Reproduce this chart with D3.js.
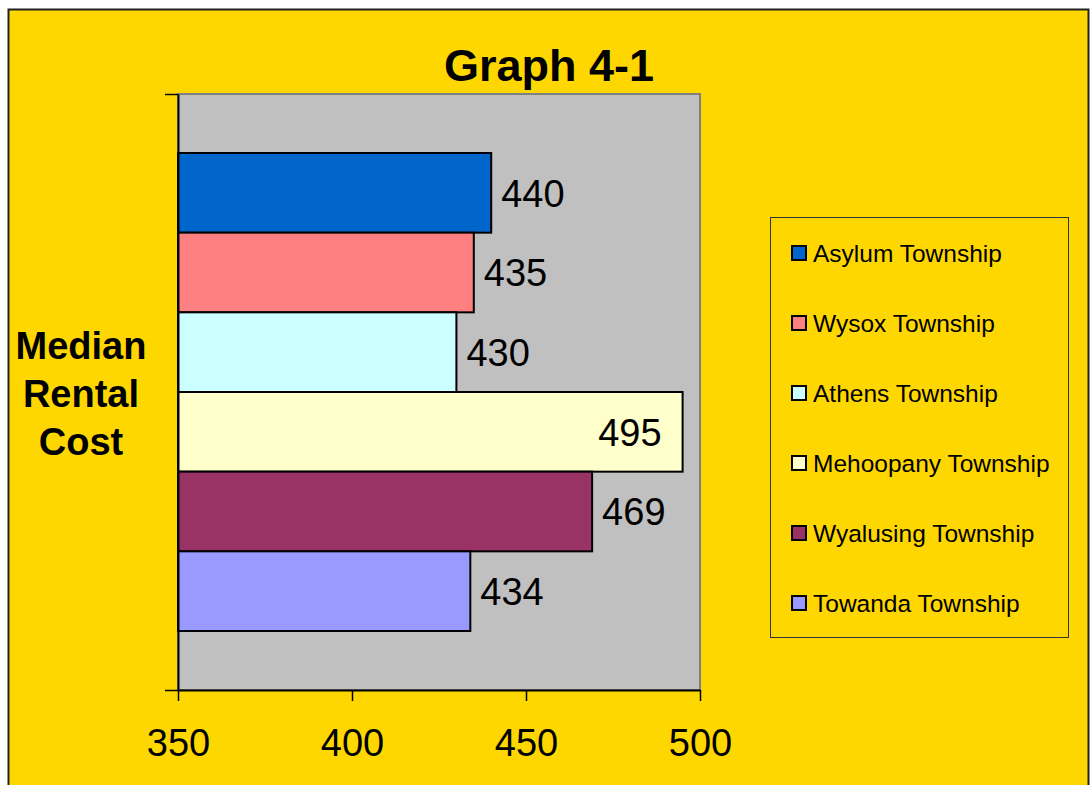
<!DOCTYPE html>
<html><head><meta charset="utf-8">
<script src="https://cdn.jsdelivr.net/npm/d3@7"></script>
<style>body{margin:0;background:#fff}svg{display:block;font-family:Arial,"Liberation Sans",sans-serif}</style>
</head><body><svg id="c" width="1091" height="785"></svg>
<script>
const categories = ["Asylum Township","Wysox Township","Athens Township","Mehoopany Township","Wyalusing Township","Towanda Township"];
const values = [440,435,430,495,469,434];
const colors = ["#0066CC","#FF8080","#CCFFFF","#FFFFCC","#993366","#9999FF"];
const xTicks = [350,400,450,500];
const title = "Graph 4-1";
const yTitle = ["Median","Rental","Cost"];

const svg = d3.select("#c");
svg.append("rect").attr("x",8.5).attr("y",9.5).attr("width",1080).attr("height",800)
  .attr("fill","#FFD700").attr("stroke","#222").attr("stroke-width",2);

const L=178,R=700,T=94,B=690;
const x = d3.scaleLinear().domain([350,500]).range([L,R]);
const y = d3.scaleBand().domain(categories).range([T+59,B-59]).padding(0);

svg.append("rect").attr("x",L).attr("y",T).attr("width",R-L).attr("height",B-T)
  .attr("fill","#C0C0C0").attr("stroke","#808080").attr("stroke-width",2);

svg.append("g").selectAll("rect").data(categories).join("rect")
  .attr("x",x(350)).attr("y",d=>y(d)).attr("width",(d,i)=>x(values[i])-x(350)).attr("height",y.bandwidth())
  .attr("fill",(d,i)=>colors[i]).attr("stroke","#000").attr("stroke-width",2);

svg.append("g").selectAll("text").data(categories).join("text")
  .attr("x",(d,i)=> values[i]>480 ? x(values[i])-21 : x(values[i])+10)
  .attr("text-anchor",(d,i)=> values[i]>480 ? "end":"start")
  .attr("y",d=>y(d)+y.bandwidth()/2).attr("dy","0.36em")
  .attr("font-size",38).attr("fill","#000").text((d,i)=>values[i]);

// axes
const xa = svg.append("g").attr("transform",`translate(0,${B})`)
  .call(d3.axisBottom(x).tickValues(xTicks).tickSize(11).tickPadding(28).tickSizeOuter(0));
xa.select(".domain").attr("stroke","#000").attr("stroke-width",2);
xa.selectAll(".tick line").attr("stroke","#000").attr("stroke-width",1.5);
xa.selectAll("text").attr("font-size",38).attr("font-family","Arial,'Liberation Sans',sans-serif").attr("fill","#000");

const ya = d3.scaleLinear().domain([0,1]).range([B,T]);
const yg = svg.append("g").attr("transform",`translate(${L},0)`)
  .call(d3.axisLeft(ya).tickValues([0,1]).tickSize(13).tickFormat("").tickSizeOuter(0));
yg.select(".domain").attr("stroke","#000").attr("stroke-width",2);
yg.selectAll(".tick line").attr("stroke","#000").attr("stroke-width",1.5);

svg.append("text").attr("x",549).attr("y",81).attr("text-anchor","middle")
  .attr("font-size",45).attr("font-weight","bold").text(title);

svg.append("g").selectAll("text").data(yTitle).join("text")
  .attr("x",81).attr("y",(d,i)=>345+i*48).attr("dy","0.36em").attr("text-anchor","middle")
  .attr("font-size",38).attr("font-weight","bold").text(d=>d);

// legend
svg.append("rect").attr("x",770.5).attr("y",217.5).attr("width",298).attr("height",420)
  .attr("fill","none").attr("stroke","#333").attr("stroke-width",1);
const lg = svg.append("g").selectAll("g").data(categories).join("g")
  .attr("transform",(d,i)=>`translate(792,${253+i*70})`);
lg.append("rect").attr("x",0).attr("y",-7).attr("width",14).attr("height",14)
  .attr("fill",(d,i)=>colors[i]).attr("stroke","#000").attr("stroke-width",2);
lg.append("text").attr("x",21).attr("y",0).attr("dy","0.36em").attr("font-size",24.5).text(d=>d);
</script></body></html>
